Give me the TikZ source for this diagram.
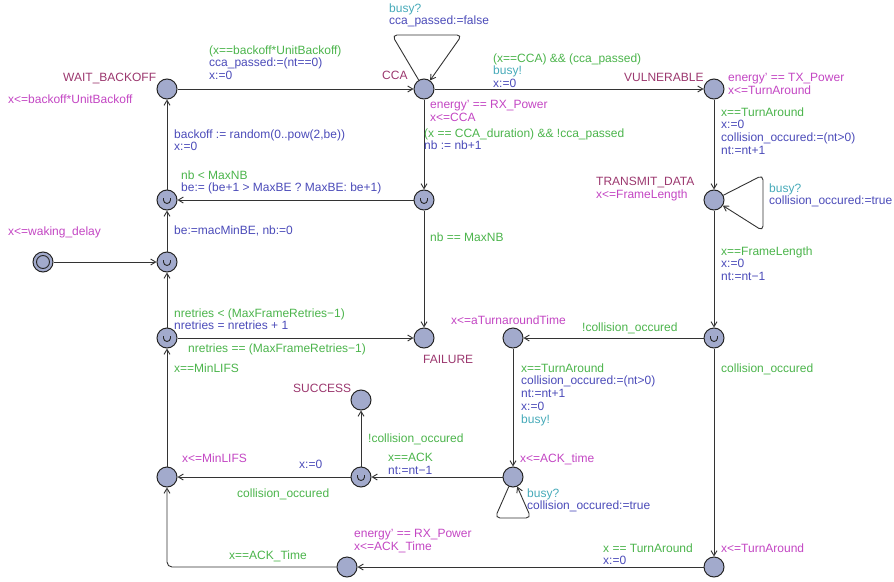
\documentclass[tikz,border=0pt]{standalone}
\usepackage{fontspec}
\setmainfont{Liberation Sans}
\usetikzlibrary{arrows.meta}

\definecolor{locname}{RGB}{155,55,110}
\definecolor{inv}{RGB}{195,70,195}
\definecolor{grd}{RGB}{75,180,75}
\definecolor{syn}{RGB}{70,170,185}
\definecolor{upd}{RGB}{75,75,185}
\definecolor{locfill}{RGB}{162,170,204}

\begin{document}
\begin{tikzpicture}[x=1pt, y=-1pt,
	loc/.style={draw=black!85, fill=locfill, circle, minimum size=20pt, inner sep=0pt, line width=1pt},
	committed/.style={loc, path picture={\draw[line width=0.9pt] ([shift={(-3.5pt,2pt)}]path picture bounding box.center) -- ++(0,-2pt) arc[start angle=180, end angle=360, radius=3.5pt] -- ++(0,2pt);}},
	initial/.style={loc, path picture={\draw[line width=0.9pt] (path picture bounding box.center) circle (6.5pt);}},
	edge/.style={-{Straight Barb[length=5pt, width=6pt]}, draw=black!80, line width=0.9pt},
	lbl/.style={anchor=north west, inner sep=0pt, yshift=-1.2pt, align=left, font=\fontsize{12}{12.8}\selectfont}]

	\useasboundingbox (0,0) rectangle (894,581);

	\foreach \name/\xx/\yy in {wait/167/89, cca/424/89, vuln/714/89, transmit/714/200, failure/424/338, turn/513/338, success/361/400, ackwait/513/477, minlifs/167/477, txend/714/567, rxack/347/567}
	{
		\node[loc] (\name) at (\xx,\yy) {};
	}
	\foreach \name/\xx/\yy in {ccadone/424/200, backoff/167/200, start/167/262, retry/167/338, txdone/714/338, ackdone/361/477}
	{
		\node[committed] (\name) at (\xx,\yy) {};
	}
	\node[initial] (init) at (43,262) {};

	\foreach \source/\target in {wait/cca, cca/vuln, cca/ccadone, ccadone/backoff, ccadone/failure, backoff/wait, start/backoff, init/start, retry/start, retry/failure, minlifs/retry, vuln/transmit, transmit/txdone, txdone/turn, txdone/txend, turn/ackwait, ackwait/ackdone, ackdone/success, ackdone/minlifs, txend/rxack} {
		\draw[edge] (\source) -- (\target);
	}
	\draw[edge, rounded corners=5pt] (rxack) -| (minlifs);

	\draw[edge, rounded corners=5pt] (cca) -- (392,35) -- (462,35) -- (cca);
	\draw[edge, rounded corners=5pt] (transmit) -- (763,175) -- (763,231) -- (transmit);
	\draw[edge, rounded corners=5pt] (ackwait) -- (495,518) -- (531,518) -- (ackwait);

	\node[lbl, text=locname] (waitname) at (63,72) {WAIT\_BACKOFF};
	\node[lbl, text=inv] (waitinv) at (8,93) {x<=backoff*UnitBackoff};
	\node[lbl] (waitcca) at (209,44) {\textcolor{grd}{(x==backoff*UnitBackoff)}\\\textcolor{upd}{cca\_passed:=(nt==0)}\\\textcolor{upd}{x:=0}};
	\node[lbl, text=locname] (ccaname) at (382,70) {CCA};
	\node[lbl] (ccaloop) at (389,2) {\textcolor{syn}{busy?}\\\textcolor{upd}{cca\_passed:=false}};
	\node[lbl] (ccavuln) at (493,52) {\textcolor{grd}{(x==CCA) \&\& (cca\_passed)}\\\textcolor{syn}{busy!}\\\textcolor{upd}{x:=0}};
	\node[lbl, text=locname] (vulnname) at (624,72) {VULNERABLE};
	\node[lbl, text=inv] (vulninv) at (728,72) {energy' == TX\_Power\\x<=TurnAround};
	\node[lbl, text=inv] (ccainv) at (430,99) {energy' == RX\_Power\\x<=CCA};
	\node[lbl] (ccadonelbl) at (424,127) {\textcolor{grd}{(x == CCA\_duration) \&\& !cca\_passed}\\\textcolor{upd}{nb := nb+1}};
	\node[lbl] (vulntx) at (721,106) {\textcolor{grd}{x==TurnAround}\\\textcolor{upd}{x:=0}\\\textcolor{upd}{collision\_occured:=(nt>0)}\\\textcolor{upd}{nt:=nt+1}};
	\node[lbl] (txname) at (596,176) {\textcolor{locname}{TRANSMIT\_DATA}\\\textcolor{inv}{x<=FrameLength}};
	\node[lbl] (txloop) at (769,182) {\textcolor{syn}{busy?}\\\textcolor{upd}{collision\_occured:=true}};
	\node[lbl] (txtxdone) at (721,245) {\textcolor{grd}{x==FrameLength}\\\textcolor{upd}{x:=0}\\\textcolor{upd}{nt:=nt−1}};
	\node[lbl] (retrycca) at (181,169) {\textcolor{grd}{nb < MaxNB}\\\textcolor{upd}{be:= (be+1 > MaxBE ? MaxBE: be+1)}};
	\node[lbl, text=upd] (backoffwait) at (174,128) {backoff := random(0..pow(2,be))\\x:=0};
	\node[lbl, text=upd] (startlbl) at (174,224) {be:=macMinBE, nb:=0};
	\node[lbl, text=inv] (initinv) at (8,225) {x<=waking\_delay};
	\node[lbl, text=grd] (maxnb) at (430,231) {nb == MaxNB};
	\node[lbl] (retrystart) at (174,307) {\textcolor{grd}{nretries < (MaxFrameRetries−1)}\\\textcolor{upd}{nretries = nretries + 1}};
	\node[lbl, text=grd] (retryfail) at (188,342) {nretries == (MaxFrameRetries−1)};
	\node[lbl, text=locname] (failname) at (423,354) {FAILURE};
	\node[lbl, text=grd] (minlifsretry) at (174,362) {x==MinLIFS};
	\node[lbl, text=inv] (turninv) at (451,314) {x<=aTurnaroundTime};
	\node[lbl, text=grd] (nocoll) at (582,321) {!collision\_occured};
	\node[lbl, text=grd] (coll) at (721,362) {collision\_occured};
	\node[lbl] (turnack) at (521,362) {\textcolor{grd}{x==TurnAround}\\\textcolor{upd}{collision\_occured:=(nt>0)}\\\textcolor{upd}{nt:=nt+1}\\\textcolor{upd}{x:=0}\\\textcolor{syn}{busy!}};
	\node[lbl, text=locname] (successname) at (293,383) {SUCCESS};
	\node[lbl, text=grd] (ackok) at (368,432) {!collision\_occured};
	\node[lbl, text=inv] (ackinv) at (520,452) {x<=ACK\_time};
	\node[lbl] (ackackdone) at (388,452) {\textcolor{grd}{x==ACK}\\\textcolor{upd}{nt:=nt−1}};
	\node[lbl, text=inv] (minlifsinv) at (182,452) {x<=MinLIFS};
	\node[lbl, text=upd] (ackreset) at (299,459) {x:=0};
	\node[lbl, text=grd] (ackcoll) at (237,487) {collision\_occured};
	\node[lbl] (ackloop) at (527,487) {\textcolor{syn}{busy?}\\\textcolor{upd}{collision\_occured:=true}};
	\node[lbl, text=inv] (txendinv) at (721,542) {x<=TurnAround};
	\node[lbl] (txendrx) at (603,542) {\textcolor{grd}{x == TurnAround}\\\textcolor{upd}{x:=0}};
	\node[lbl, text=inv] (rxackinv) at (354,528) {energy' == RX\_Power\\x<=ACK\_Time};
	\node[lbl, text=grd] (rxacklbl) at (229,549) {x==ACK\_Time};

\end{tikzpicture}
\end{document}
